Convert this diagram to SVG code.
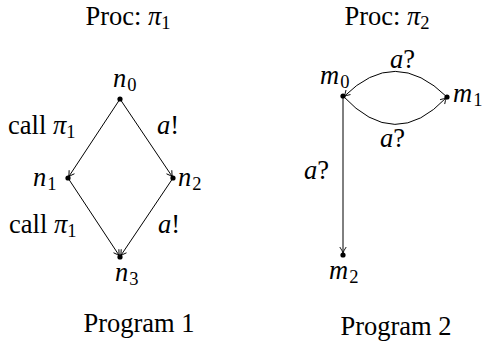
<svg xmlns="http://www.w3.org/2000/svg" width="484" height="345" viewBox="0 0 484 345">
<defs>
<style>
.e{fill:none;stroke:#000;stroke-width:1}
.d{fill:#000}
</style>
<marker id="ah" viewBox="-8 -5 10 10" markerWidth="10" markerHeight="10" refX="0" refY="0" orient="auto" markerUnits="userSpaceOnUse">
<path d="M-6,-3.2 Q-2.5,-0.8 0,0 Q-2.5,0.8 -6,3.2" fill="none" stroke="#000" stroke-width="0.9"/>
</marker>
</defs>
<rect width="484" height="345" fill="#fff"/>
<g font-family="Liberation Serif, Times New Roman, serif" font-size="26.5" fill="#000">
<text x="128" y="24.5" text-anchor="middle">Proc: <tspan font-style="italic">π</tspan><tspan font-size="18.5" dy="4">1</tspan></text>
<text x="387" y="24.5" text-anchor="middle">Proc: <tspan font-style="italic">π</tspan><tspan font-size="18.5" dy="4">2</tspan></text>
<g id="edges">
<line class="e" x1="120" y1="99" x2="68.5" y2="177" marker-end="url(#ah)"/>
<line class="e" x1="120" y1="99" x2="172.5" y2="177" marker-end="url(#ah)"/>
<line class="e" x1="68" y1="178" x2="119.5" y2="256" marker-end="url(#ah)"/>
<line class="e" x1="173" y1="178" x2="120.5" y2="256" marker-end="url(#ah)"/>
<path class="e" d="M447,97 Q395,46 344,96.5" marker-end="url(#ah)"/>
<path class="e" d="M343,96 Q395,152 446.5,97.5" marker-end="url(#ah)"/>
<line class="e" x1="343" y1="96" x2="343" y2="253" marker-end="url(#ah)"/>
<text x="8" y="134">call <tspan font-style="italic">π</tspan><tspan font-size="18.5" dy="4">1</tspan></text>
<text x="157" y="134" font-style="italic">a<tspan font-style="normal">!</tspan></text>
<text x="9" y="233">call <tspan font-style="italic">π</tspan><tspan font-size="18.5" dy="4">1</tspan></text>
<text x="158" y="233" font-style="italic">a<tspan font-style="normal">!</tspan></text>
<text x="390" y="68" font-style="italic">a<tspan font-style="normal">?</tspan></text>
<text x="380" y="147" font-style="italic">a<tspan font-style="normal">?</tspan></text>
<text x="304" y="179" font-style="italic">a<tspan font-style="normal">?</tspan></text>
</g>
<g id="n0"><circle class="d" cx="120" cy="99" r="2.6"/><text x="113" y="87" font-style="italic">n<tspan font-style="normal" font-size="18.5" dy="4" dx="1">0</tspan></text></g>
<g id="n1"><circle class="d" cx="68" cy="178" r="2.6"/><text x="33" y="186" font-style="italic">n<tspan font-style="normal" font-size="18.5" dy="4" dx="1">1</tspan></text></g>
<g id="n2"><circle class="d" cx="173" cy="178" r="2.6"/><text x="178" y="186" font-style="italic">n<tspan font-style="normal" font-size="18.5" dy="4" dx="1">2</tspan></text></g>
<g id="n3"><circle class="d" cx="120" cy="257" r="2.6"/><text x="115" y="281" font-style="italic">n<tspan font-style="normal" font-size="18.5" dy="4" dx="1">3</tspan></text></g>
<g id="m0"><circle class="d" cx="343" cy="96" r="2.6"/><text x="320" y="84" font-style="italic">m<tspan font-style="normal" font-size="18.5" dy="4" dx="1">0</tspan></text></g>
<g id="m1"><circle class="d" cx="447" cy="97" r="2.6"/><text x="453" y="102" font-style="italic">m<tspan font-style="normal" font-size="18.5" dy="4" dx="1">1</tspan></text></g>
<g id="m2"><circle class="d" cx="343" cy="255" r="2.6"/><text x="329" y="279" font-style="italic">m<tspan font-style="normal" font-size="18.5" dy="4" dx="1">2</tspan></text></g>
<text x="139" y="332" text-anchor="middle">Program 1</text>
<text x="396" y="335" text-anchor="middle">Program 2</text>
</g>
</svg>
